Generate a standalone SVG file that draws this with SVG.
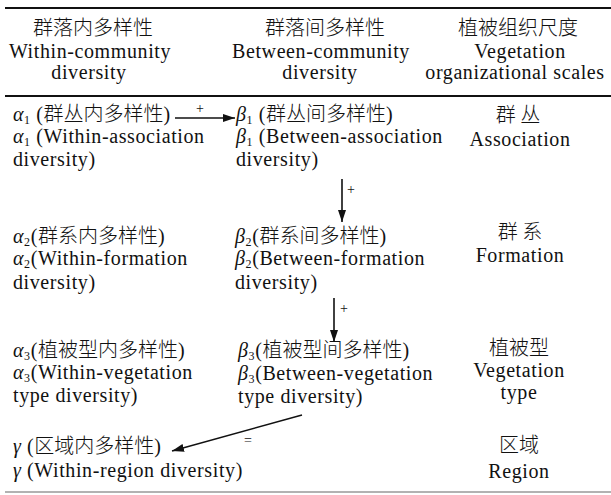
<svg xmlns="http://www.w3.org/2000/svg" width="611" height="495" viewBox="0 0 611 495">
<style>
text{font-family:"Liberation Serif","Noto Sans CJK SC",serif;font-size:20px;letter-spacing:0.6px;fill:#111}
.c{text-anchor:middle}
.cjk{font-family:"Noto Sans CJK SC","Liberation Serif",sans-serif;font-size:20px;font-weight:300;letter-spacing:0}
.it{font-style:italic}
.sub{font-size:12px}
.rule{stroke:#111;stroke-width:2.2}
.conn{stroke:#111;stroke-width:1.6;fill:none}
.lbl{font-size:14px;letter-spacing:0}
</style>
<defs>
<marker id="ah" viewBox="0 0 12 8" refX="12" refY="4" markerWidth="12" markerHeight="8" markerUnits="userSpaceOnUse" orient="auto">
<path d="M0,0 L12,4 L0,8 Z" fill="#111"/>
</marker>
</defs>
<rect width="611" height="495" fill="#fff"/>
<line class="rule" x1="5" y1="8" x2="611" y2="8"/>
<line class="rule" x1="5" y1="96" x2="611" y2="96"/>
<line x1="5" y1="492" x2="611" y2="492" stroke="#999" stroke-width="1.5"/>

<g id="header-within">
<text class="c cjk" x="93" y="35">群落内多样性</text>
<text class="c" x="90" y="58">Within-community</text>
<text class="c" x="89" y="79">diversity</text>
</g>
<g id="header-between">
<text class="c cjk" x="325" y="35">群落间多样性</text>
<text class="c" x="321" y="58">Between-community</text>
<text class="c" x="320" y="79">diversity</text>
</g>
<g id="header-scale">
<text class="c cjk" x="518" y="35">植被组织尺度</text>
<text class="c" x="520" y="58">Vegetation</text>
<text class="c" x="515" y="79">organizational scales</text>
</g>

<g id="alpha1">
<text x="13" y="121"><tspan class="it">α</tspan><tspan class="sub" dy="3">1</tspan><tspan dy="-3"> (</tspan><tspan class="cjk">群丛内多样性</tspan>)</text>
<text x="13" y="143"><tspan class="it">α</tspan><tspan class="sub" dy="3">1</tspan><tspan dy="-3"> (Within-association</tspan></text>
<text x="13" y="166">diversity)</text>
</g>
<g id="beta1">
<text x="236" y="121"><tspan class="it">β</tspan><tspan class="sub" dy="3">1</tspan><tspan dy="-3"> (</tspan><tspan class="cjk">群丛间多样性</tspan>)</text>
<text x="236" y="143"><tspan class="it">β</tspan><tspan class="sub" dy="3">1</tspan><tspan dy="-3"> (Between-association</tspan></text>
<text x="236" y="166">diversity)</text>
</g>
<g id="scale1">
<text class="c cjk" x="518" y="122">群 丛</text>
<text class="c" x="520" y="146">Association</text>
</g>

<g id="alpha2">
<text x="13" y="243"><tspan class="it">α</tspan><tspan class="sub" dy="3">2</tspan><tspan dy="-3">(</tspan><tspan class="cjk">群系内多样性</tspan>)</text>
<text x="13" y="265"><tspan class="it">α</tspan><tspan class="sub" dy="3">2</tspan><tspan dy="-3">(Within-formation</tspan></text>
<text x="13" y="289">diversity)</text>
</g>
<g id="beta2">
<text x="235" y="243"><tspan class="it">β</tspan><tspan class="sub" dy="3">2</tspan><tspan dy="-3">(</tspan><tspan class="cjk">群系间多样性</tspan>)</text>
<text x="235" y="265"><tspan class="it">β</tspan><tspan class="sub" dy="3">2</tspan><tspan dy="-3">(Between-formation</tspan></text>
<text x="235" y="289">diversity)</text>
</g>
<g id="scale2">
<text class="c cjk" x="520" y="239">群 系</text>
<text class="c" x="520" y="262">Formation</text>
</g>

<g id="alpha3">
<text x="13" y="357"><tspan class="it">α</tspan><tspan class="sub" dy="3">3</tspan><tspan dy="-3">(</tspan><tspan class="cjk">植被型内多样性</tspan>)</text>
<text x="13" y="379"><tspan class="it">α</tspan><tspan class="sub" dy="3">3</tspan><tspan dy="-3">(Within-vegetation</tspan></text>
<text x="13" y="402">type diversity)</text>
</g>
<g id="beta3">
<text x="238" y="357"><tspan class="it">β</tspan><tspan class="sub" dy="3">3</tspan><tspan dy="-3">(</tspan><tspan class="cjk">植被型间多样性</tspan>)</text>
<text x="238" y="380"><tspan class="it">β</tspan><tspan class="sub" dy="3">3</tspan><tspan dy="-3">(Between-vegetation</tspan></text>
<text x="238" y="403">type diversity)</text>
</g>
<g id="scale3">
<text class="c cjk" x="519" y="355">植被型</text>
<text class="c" x="519" y="377">Vegetation</text>
<text class="c" x="519" y="399">type</text>
</g>

<g id="gamma">
<text x="13" y="453"><tspan class="it">γ</tspan> (<tspan class="cjk">区域内多样性</tspan>)</text>
<text x="13" y="477"><tspan class="it">γ</tspan> (Within-region diversity)</text>
</g>
<g id="scale4">
<text class="c cjk" x="519" y="452">区域</text>
<text class="c" x="519" y="478">Region</text>
</g>

<g id="connectors">
<line class="conn" x1="175" y1="118" x2="235" y2="118" marker-end="url(#ah)"/>
<text class="lbl" x="200" y="113" text-anchor="middle">+</text>
<line class="conn" x1="342" y1="179" x2="342" y2="222" marker-end="url(#ah)"/>
<text class="lbl" x="351" y="194" text-anchor="middle">+</text>
<line class="conn" x1="334" y1="298" x2="334" y2="342" marker-end="url(#ah)"/>
<text class="lbl" x="344" y="313" text-anchor="middle">+</text>
<line class="conn" x1="302" y1="415" x2="172" y2="451" marker-end="url(#ah)"/>
<text class="lbl" x="248" y="445" text-anchor="middle">=</text>
</g>
</svg>
